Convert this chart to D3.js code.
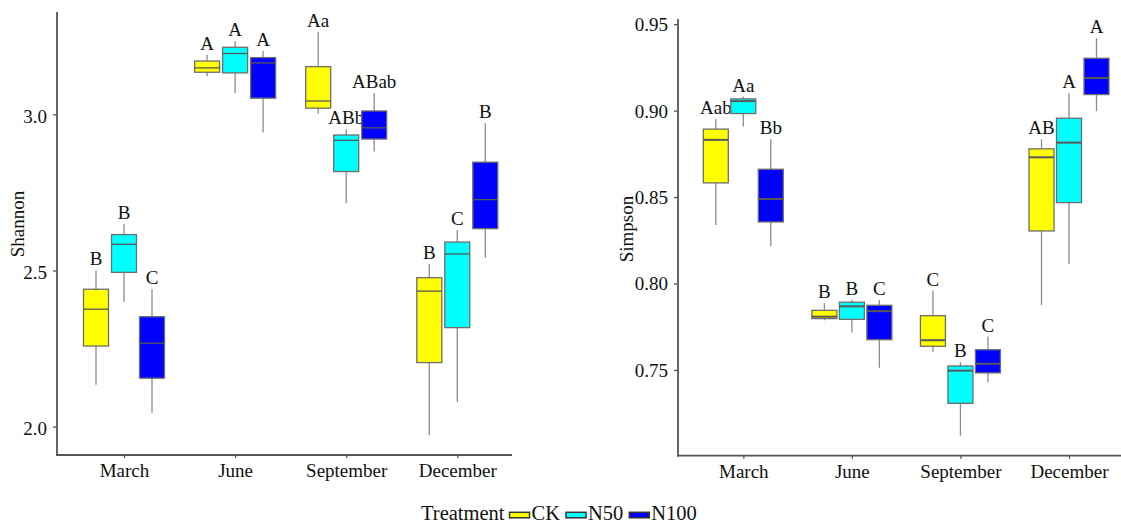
<!DOCTYPE html>
<html>
<head>
<meta charset="utf-8">
<script src="https://cdn.jsdelivr.net/npm/d3@7"></script>
<style>
  html, body { margin: 0; padding: 0; background: #fff; font-family: "Liberation Serif", "DejaVu Serif", serif; }
  svg { display: block; }
</style>
</head>
<body>
<svg id="chart" width="1121" height="527" font-family="Liberation Serif, DejaVu Serif, serif"></svg>
<script>
// ---------- data ----------
const months = ["March", "June", "September", "December"];
const treatments = ["CK", "N50", "N100"];
const treatmentColors = ["#FFFF00", "#00FFFF", "#0000FF"];

// order: for each month, CK, N50, N100
const shannonMax = [2.50, 2.648, 2.44, 3.191, 3.235, 3.204, 3.265, 2.952, 3.068, 2.521, 2.63, 2.972];
const shannonQ3  = [2.44, 2.615, 2.352, 3.171, 3.215, 3.182, 3.153, 2.934, 3.011, 2.477, 2.591, 2.847];
const shannonMed = [2.376, 2.584, 2.267, 3.149, 3.195, 3.165, 3.043, 2.917, 2.957, 2.434, 2.553, 2.727];
const shannonQ1  = [2.258, 2.494, 2.155, 3.135, 3.133, 3.052, 3.020, 2.817, 2.921, 2.205, 2.317, 2.634];
const shannonMin = [2.134, 2.40, 2.044, 3.122, 3.068, 2.942, 3.002, 2.715, 2.881, 1.972, 2.079, 2.54];
const shannonLetters = ["B", "B", "C", "A", "A", "A", "Aa", "ABb", "ABab", "B", "C", "B"];
const shannonTicks = [2.0, 2.5, 3.0];

const simpsonMax = [0.8952, 0.9081, 0.8835, 0.7886, 0.7905, 0.7905, 0.7959, 0.7545, 0.7693, 0.8835, 0.910, 0.9419];
const simpsonQ3  = [0.8893, 0.9068, 0.8661, 0.7845, 0.7892, 0.7874, 0.7814, 0.7523, 0.7617, 0.8779, 0.8956, 0.9303];
const simpsonMed = [0.8831, 0.9055, 0.8489, 0.7808, 0.7868, 0.784, 0.7672, 0.7496, 0.7536, 0.873, 0.8815, 0.9189];
const simpsonQ1  = [0.8582, 0.8983, 0.8356, 0.7797, 0.7793, 0.7675, 0.7637, 0.7307, 0.7483, 0.8304, 0.8468, 0.9093];
const simpsonMin = [0.8339, 0.8908, 0.8217, 0.7787, 0.7716, 0.7513, 0.7606, 0.712, 0.7427, 0.7874, 0.8113, 0.8997];
const simpsonLetters = ["Aab", "Aa", "Bb", "B", "B", "C", "C", "B", "C", "AB", "A", "A"];
const simpsonTicks = [0.75, 0.80, 0.85, 0.90, 0.95];

// ---------- drawing ----------
const FONT = "Liberation Serif, DejaVu Serif, serif";
const FS = 19;
const svg = d3.select("#chart");

function txt(sel, size) {
  return sel.attr("font-family", FONT).attr("font-size", size || FS).attr("fill", "#111");
}

function buildRows(mx, q3, md, q1, mn, letters) {
  const rows = [];
  months.forEach((m, i) => treatments.forEach((t, j) => {
    const k = i * treatments.length + j;
    rows.push({month: m, treat: t, color: treatmentColors[j], max: mx[k], q3: q3[k], med: md[k], q1: q1[k], min: mn[k], label: letters[k]});
  }));
  return rows;
}

function panel(opts) {
  const {rows, ticks, fmt, title, axisX, axisTop, axisBottom, xRight, monthRange, dodge, domain, titleX, titleY, tickDy, medW} = opts;
  const g = svg.append("g");
  const y = d3.scaleLinear().domain(domain).range([axisBottom, axisTop]);
  const x = d3.scalePoint().domain(months).range(monthRange);
  const off = d3.scalePoint().domain(treatments).range([-dodge, dodge]);
  const bw = 25;

  // y axis
  const ya = g.append("g").attr("transform", `translate(${axisX},0)`)
    .call(d3.axisLeft(y).tickValues(ticks).tickFormat(d3.format(fmt)).tickSize(4).tickSizeOuter(0).tickPadding(6));
  ya.attr("font-family", FONT).attr("font-size", FS);
  ya.select(".domain").remove();
  ya.selectAll(".tick line").attr("stroke", "#555").attr("stroke-width", 1.3);
  txt(ya.selectAll(".tick text")).attr("dy", tickDy);
  g.append("line").attr("x1", axisX).attr("x2", axisX).attr("y1", axisTop).attr("y2", axisBottom + 0.75)
    .attr("stroke", "#555").attr("stroke-width", 1.8);

  // x axis
  const xa = g.append("g").attr("transform", `translate(0,${axisBottom})`)
    .call(d3.axisBottom(x).tickSize(3).tickSizeOuter(0).tickPadding(6));
  xa.attr("font-family", FONT).attr("font-size", FS);
  xa.select(".domain").remove();
  xa.selectAll(".tick line").attr("stroke", "#555").attr("stroke-width", 1.3);
  txt(xa.selectAll(".tick text"));
  g.append("line").attr("x1", axisX - 0.9).attr("x2", xRight).attr("y1", axisBottom).attr("y2", axisBottom)
    .attr("stroke", "#555").attr("stroke-width", 1.8);

  // y title
  txt(g.append("text"))
    .attr("transform", `translate(${titleX},${titleY}) rotate(-90)`)
    .attr("text-anchor", "middle")
    .text(title);

  const boxes = g.append("g").selectAll("g").data(rows).join("g")
    .attr("transform", d => `translate(${x(d.month) + off(d.treat)},0)`);
  boxes.append("line").attr("x1", 0).attr("x2", 0)
    .attr("y1", d => y(d.max)).attr("y2", d => y(d.q3))
    .attr("stroke", "#8c8c8c").attr("stroke-width", 1.3);
  boxes.append("line").attr("x1", 0).attr("x2", 0)
    .attr("y1", d => y(d.q1)).attr("y2", d => y(d.min))
    .attr("stroke", "#8c8c8c").attr("stroke-width", 1.3);
  boxes.append("rect")
    .attr("x", -bw / 2).attr("width", bw)
    .attr("y", d => y(d.q3)).attr("height", d => y(d.q1) - y(d.q3))
    .attr("fill", d => d.color).attr("stroke", "#6e6e6e").attr("stroke-width", 1.3);
  boxes.append("line").attr("x1", -bw / 2).attr("x2", bw / 2)
    .attr("y1", d => y(d.med)).attr("y2", d => y(d.med))
    .attr("stroke", "#585858").attr("stroke-width", medW);
  txt(boxes.append("text"))
    .attr("x", 0).attr("y", d => y(d.max) - 5)
    .attr("text-anchor", "middle")
    .text(d => d.label);
}

panel({
  rows: buildRows(shannonMax, shannonQ3, shannonMed, shannonQ1, shannonMin, shannonLetters),
  ticks: shannonTicks, fmt: ".1f", title: "Shannon",
  axisX: 57, axisTop: 12, axisBottom: 455, xRight: 512,
  monthRange: [124, 457.3], dodge: 28, domain: [1.909, 3.328],
  titleX: 24, titleY: 224, tickDy: "0.42em", medW: 1.3
});

panel({
  rows: buildRows(simpsonMax, simpsonQ3, simpsonMed, simpsonQ1, simpsonMin, simpsonLetters),
  ticks: simpsonTicks, fmt: ".2f", title: "Simpson",
  axisX: 678, axisTop: 19, axisBottom: 455.7, xRight: 1121,
  monthRange: [743.3, 1069], dodge: 27.5, domain: [0.7004, 0.953],
  titleX: 633, titleY: 229, tickDy: "0.34em", medW: 2
});

// ---------- legend ----------
const LFS = 20.5;
const lg = svg.append("g");
const lt = txt(lg.append("text"), LFS).attr("x", 421).attr("y", 520).text("Treatment");
let cx = 421 + lt.node().getComputedTextLength() + 5;
treatments.forEach((t, j) => {
  lg.append("rect").attr("x", cx).attr("y", 512.3).attr("width", 20).attr("height", 5.5)
    .attr("fill", treatmentColors[j]).attr("stroke", "#333").attr("stroke-width", 1.5);
  const tx = txt(lg.append("text"), LFS).attr("x", cx + 22).attr("y", 520).text(t);
  cx += 22 + tx.node().getComputedTextLength() + 6;
});
</script>
</body>
</html>
